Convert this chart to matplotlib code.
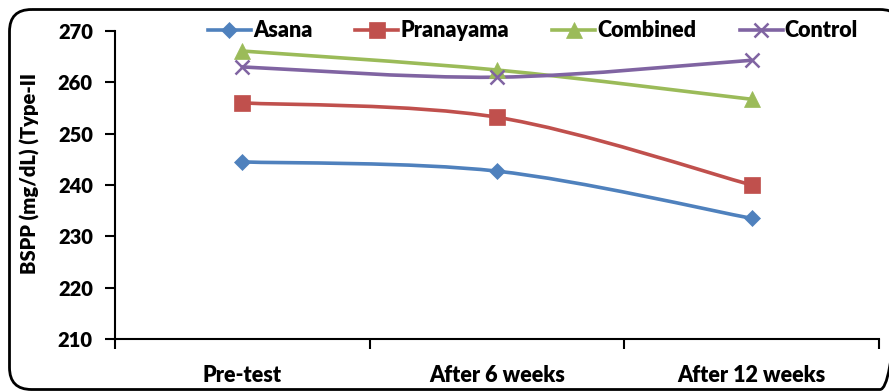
import matplotlib
matplotlib.use("Agg")
import matplotlib.pyplot as plt
from matplotlib.path import Path
from matplotlib.patches import PathPatch, FancyBboxPatch
from matplotlib.lines import Line2D
import numpy as np

categories = ["Pre-test", "After 6 weeks", "After 12 weeks"]
asana = [244.5, 242.7, 233.5]
pranayama = [256.0, 253.2, 240.0]
combined = [266.1, 262.4, 256.7]
control = [263.0, 261.0, 264.3]
series_names = ["Asana", "Pranayama", "Combined", "Control"]
y_ticks = [210, 220, 230, 240, 250, 260, 270]

plt.rcParams["font.family"] = ["Lato", "DejaVu Sans"]
WT = "heavy"

fig = plt.figure(figsize=(8.89, 3.91), dpi=100)
W, H = 889, 391

# outer rounded frame, in pixel coordinates
bg = fig.add_axes([0, 0, 1, 1])
bg.set_xlim(0, W)
bg.set_ylim(H, 0)
bg.axis("off")
frame = FancyBboxPatch((9.5, 9.5), 902 - 9.5, 389.5 - 9.5,
                       boxstyle="round,pad=0,rounding_size=22",
                       fill=False, edgecolor="black", linewidth=2.0,
                       clip_on=False)
bg.add_patch(frame)

ax = fig.add_axes([115 / W, (H - 339) / H, (879 - 115) / W, (339 - 31) / H])
ax.set_xlim(0, 3)
ax.set_ylim(210, 270)
ax.patch.set_alpha(0)

colors = ["#4F81BD", "#C0504D", "#9BBB59", "#8064A2"]
markers = ["D", "s", "^", "x"]
msizes = [8, 11, 11, 10]
data = [asana, pranayama, combined, control]
xs = np.arange(len(categories)) + 0.5


def smooth_path(x, y):
    pts = np.column_stack([x, y])
    n = len(pts)
    verts = [pts[0]]
    codes = [Path.MOVETO]
    for i in range(n - 1):
        p0 = pts[i - 1] if i > 0 else pts[i]
        p1 = pts[i]
        p2 = pts[i + 1]
        p3 = pts[i + 2] if i + 2 < n else pts[i + 1]
        c1 = p1 + (p2 - p0) / 6.0
        c2 = p2 - (p3 - p1) / 6.0
        verts += [c1, c2, p2]
        codes += [Path.CURVE4] * 3
    return Path(verts, codes)


handles = []
for vals, c, m, ms, nm in zip(data, colors, markers, msizes, series_names):
    patch = PathPatch(smooth_path(xs, np.array(vals, float)), fill=False,
                      edgecolor=c, linewidth=2.6, capstyle="round", zorder=2)
    ax.add_patch(patch)
    ax.plot(xs, vals, linestyle="none", marker=m, markersize=ms, color=c,
            markeredgewidth=1.8 if m == "x" else 0.5, markeredgecolor=c, zorder=3)
    handles.append(Line2D([], [], color=c, linewidth=2.6, marker=m,
                          markersize=ms, markeredgewidth=1.8 if m == "x" else 0.5,
                          markeredgecolor=c, label=nm))

leg = ax.legend(handles=handles, loc="center", bbox_to_anchor=(0.547, 1.0),
                ncol=4, frameon=False, prop={"size": 15.5, "weight": WT},
                handlelength=2.0, handletextpad=0.1, columnspacing=2.0,
                borderaxespad=0)

for s in ["top", "right"]:
    ax.spines[s].set_visible(False)
for s in ["left", "bottom"]:
    ax.spines[s].set_linewidth(1.5)
    ax.spines[s].set_color("black")

ax.set_yticks(y_ticks)
ax.set_yticklabels([str(v) for v in y_ticks], fontsize=14.5, fontweight=WT)
ax.tick_params(axis="y", direction="out", length=7, width=1.5, pad=9)

ax.set_xticks([0, 1, 2, 3])
ax.set_xticklabels([])
ax.tick_params(axis="x", which="major", direction="out", length=7, width=1.5)
ax.set_xticks(xs, minor=True)
ax.set_xticklabels(categories, minor=True, fontsize=15.5, fontweight=WT)
ax.tick_params(axis="x", which="minor", length=0, pad=19)

ax.set_ylabel("BSPP (mg/dL) (Type-II", fontsize=14.5, fontweight=WT)
ax.yaxis.set_label_coords(-0.098, 0.536)

fig.savefig("out.png", dpi=100)
